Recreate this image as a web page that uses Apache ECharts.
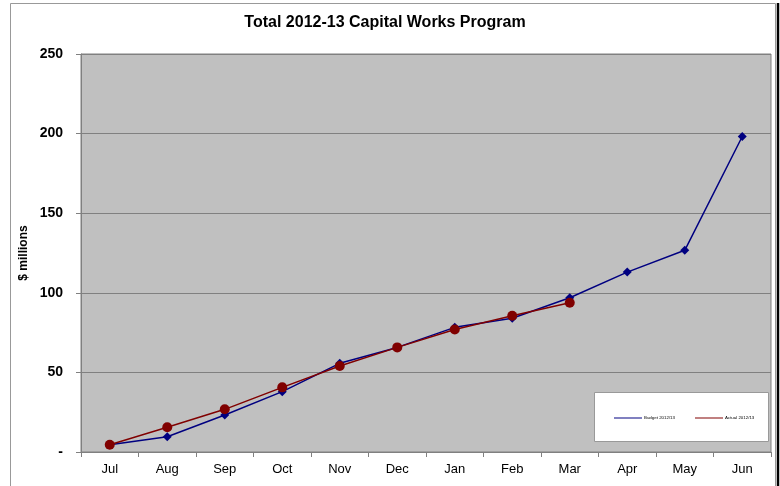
<!DOCTYPE html>
<html><head><meta charset="utf-8">
<script src="https://cdn.jsdelivr.net/npm/echarts@6/dist/echarts.min.js"></script>
<style>html,body{margin:0;padding:0;background:#fff}#c{width:780px;height:486px}</style>
</head><body><div id="c"></div>
<script>
const categories = ['Jul','Aug','Sep','Oct','Nov','Dec','Jan','Feb','Mar','Apr','May','Jun'];
const budget = [4.5, 9.6, 23.2, 37.9, 55.7, 65.7, 78.3, 84.0, 96.9, 113.0, 126.7, 198.2];
const actual = [4.5, 15.5, 26.8, 40.6, 54.0, 65.7, 77.0, 85.6, 93.7, null, null, null];
const yTicks = {min: 0, max: 250, interval: 50};

const chart = echarts.init(document.getElementById('c'), null, {renderer: 'canvas'});
const font = 'Liberation Sans, Arial, sans-serif';
chart.setOption({
  animation: false,
  backgroundColor: '#fff',
  title: {
    text: 'Total 2012-13 Capital Works Program',
    left: 380, top: 10, textAlign: 'center',
    textStyle: {fontFamily: font, fontSize: 16, fontWeight: 'bold', color: '#000'}
  },
  graphic: [
    {type: 'rect', shape: {x: 10.5, y: 3.5, width: 765, height: 490}, style: {fill: 'none', stroke: '#999', lineWidth: 1}, z: 0},
    {type: 'line', shape: {x1: 778, y1: 3, x2: 778, y2: 486}, style: {stroke: '#000', lineWidth: 2.5}, z: 0},
    {type: 'rect', shape: {x: 594.5, y: 392.5, width: 174, height: 49}, style: {fill: '#fff', stroke: '#999', lineWidth: 1}, z: 5}
  ],
  legend: {
    left: 614, top: 416, padding: 0, itemGap: 20, itemWidth: 28, itemHeight: 6,
    textStyle: {fontFamily: font, fontSize: 4.4, color: '#000', padding: [0, 0, 0, -3]},
    data: ['Budget 2012/13', 'Actual 2012/13'], z: 10,
    icon: 'path://M0,2.5 L28,2.5 L28,3.5 L0,3.5 Z'
  },
  grid: {
    left: 81, right: 9, top: 54, bottom: 34, show: true,
    backgroundColor: '#C0C0C0', borderColor: '#808080', borderWidth: 1
  },
  xAxis: {
    type: 'category', data: categories, boundaryGap: true,
    axisLine: {lineStyle: {color: '#808080', width: 1}},
    axisTick: {show: true, length: 5, lineStyle: {color: '#808080'}},
    axisLabel: {fontFamily: font, fontSize: 13, color: '#000', margin: 11}
  },
  yAxis: {
    type: 'value', min: yTicks.min, max: yTicks.max, interval: yTicks.interval,
    name: '$ millions', nameLocation: 'middle', nameGap: 51, nameRotate: 90,
    nameMoveOverlap: false,
    nameTextStyle: {fontFamily: font, fontSize: 12, fontWeight: 'bold', color: '#000'},
    axisLine: {show: true, lineStyle: {color: '#808080'}},
    axisTick: {show: true, length: 5, lineStyle: {color: '#808080'}},
    splitLine: {lineStyle: {color: '#808080', width: 1}},
    axisLabel: {fontFamily: font, fontSize: 14, fontWeight: 'bold', color: '#000', margin: 18,
      formatter: v => v === 0 ? '-' : String(v)}
  },
  series: [
    {name: 'Budget 2012/13', type: 'line', data: budget, symbol: 'diamond', symbolSize: 9,
      lineStyle: {color: '#000080', width: 1.5}, itemStyle: {color: '#000080'}, z: 3},
    {name: 'Actual 2012/13', type: 'line', data: actual, symbol: 'circle', symbolSize: 10,
      lineStyle: {color: '#800000', width: 1.5}, itemStyle: {color: '#800000'}, z: 4}
  ]
});
</script></body></html>
